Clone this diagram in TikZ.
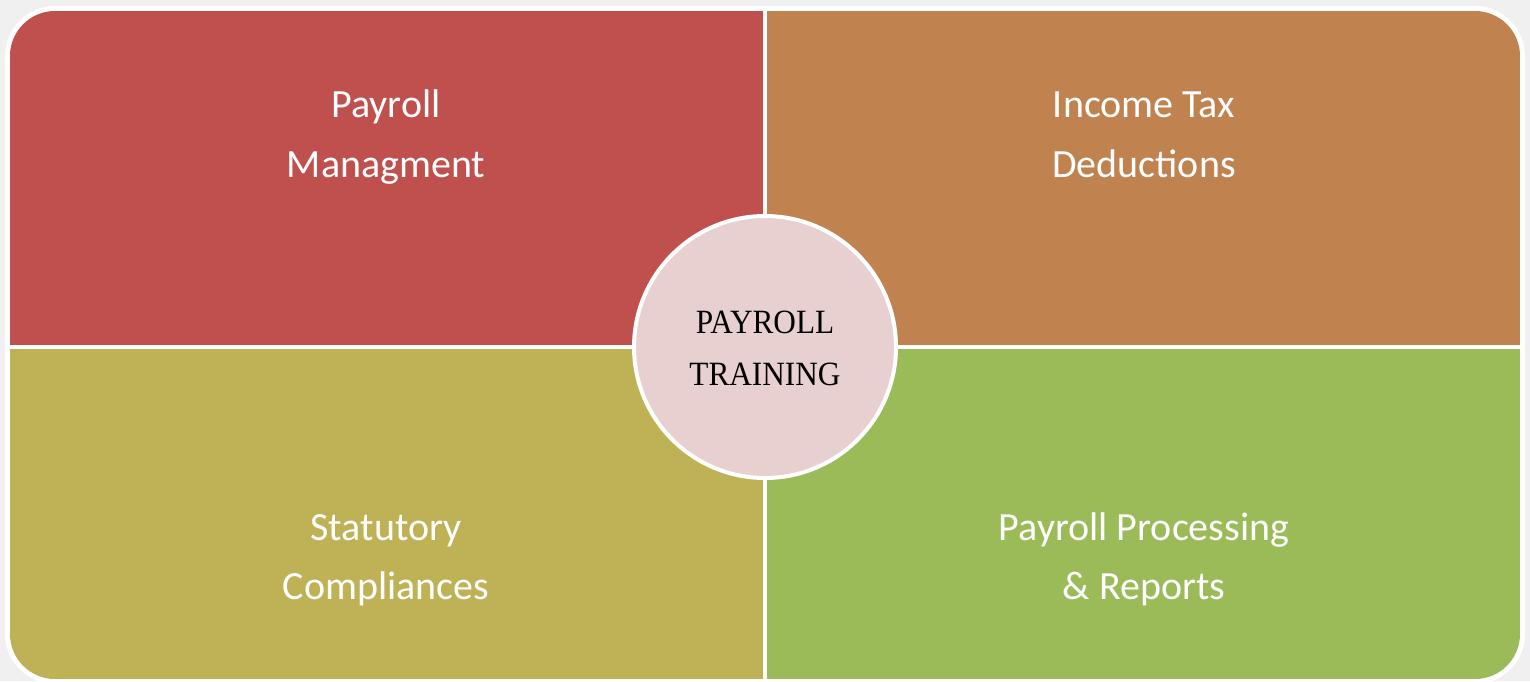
\documentclass[tikz,border=0pt]{standalone}
\usepackage{fontspec}
\setmainfont{Carlito}
\newfontfamily\centerfont[FakeStretch=0.92]{Liberation Serif}
\definecolor{bgc}{HTML}{F0F0F0}
\definecolor{qred}{HTML}{C0504D}
\definecolor{qorange}{HTML}{C0824F}
\definecolor{qolive}{HTML}{BFB256}
\definecolor{qgreen}{HTML}{9BBB59}
\definecolor{qpink}{HTML}{E8D0D1}
\tikzset{
  quadtext/.style={text=white, anchor=base, font=\fontsize{40}{61}\selectfont, inner sep=0pt},
  hubcircle/.style={circle, draw=white, line width=4pt, fill=qpink, minimum size=262pt, inner sep=0pt},
  hubtext/.style={anchor=base, font=\centerfont\fontsize{34}{52}\selectfont, text=black, inner sep=0pt}
}
\begin{document}
\begin{tikzpicture}[x=1pt,y=-1pt]
\useasboundingbox (0,0) rectangle (1530,681);
\fill[bgc] (0,0) rectangle (1530,681);
\fill[white, rounded corners=50pt] (5,6) rectangle (1525,684);
\begin{scope}
  \clip[rounded corners=45pt] (10,11) rectangle (1520,679);
  \fill[qred] (10,11) rectangle (763,345);
  \fill[qorange] (767,11) rectangle (1520,345);
  \fill[qolive] (10,349) rectangle (763,679);
  \fill[qgreen] (767,349) rectangle (1520,679);
\end{scope}
\node[quadtext] (pm1) at (386,117) {Payroll};
\node[quadtext] (pm2) at (386,177) {Managment};
\node[quadtext] (it1) at (1144,117) {Income Tax};
\node[quadtext] (it2) at (1144,177) {Deductions};
\node[quadtext] (sc1) at (386,540) {Statutory};
\node[quadtext] (sc2) at (386,599) {Compliances};
\node[quadtext] (pp1) at (1144,540) {Payroll Processing};
\node[quadtext] (pp2) at (1144,599) {\& Reports};
\node[hubcircle] (hub) at (765,347) {};
\node[hubtext] (hub1) at (765,333) {PAYROLL};
\node[hubtext] (hub2) at (765,385) {TRAINING};
\end{tikzpicture}
\end{document}
